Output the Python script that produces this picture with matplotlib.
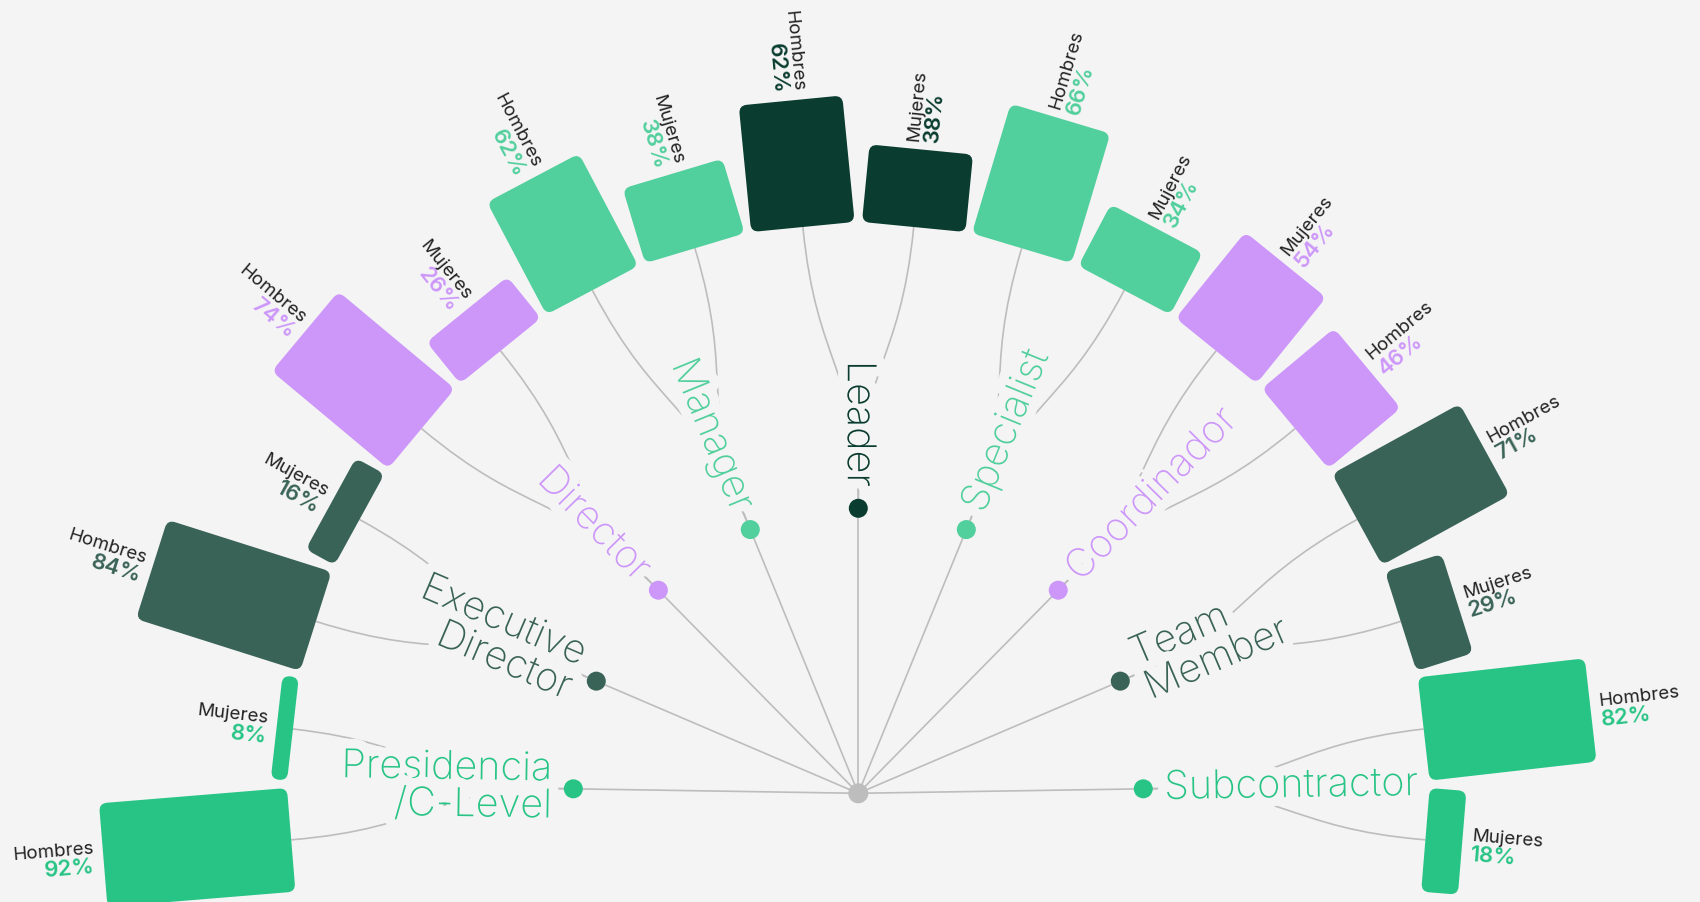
import numpy as np
import matplotlib
matplotlib.use('Agg')
import matplotlib.pyplot as plt
from matplotlib.patches import FancyBboxPatch, Circle, PathPatch
from matplotlib.path import Path
from matplotlib.transforms import Affine2D
import matplotlib.patheffects as pe

# data
categories = ["Presidencia\n/C-Level", "Executive\nDirector", "Director", "Manager",
              "Leader", "Specialist", "Coordinador", "Team\nMember", "Subcontractor"]
hombres = [92, 84, 74, 62, 62, 66, 46, 71, 82]
mujeres = [8, 16, 26, 38, 38, 34, 54, 29, 18]
cat_colors = ["#27c485", "#3a6357", "#cd97fa", "#51cf9c", "#0a3d2f",
              "#51cf9c", "#cd97fa", "#3a6357", "#27c485"]

BG = "#f4f4f4"
LINE = "#bdbdbd"
TXT = "#222222"
FONT = "Inter"

W, H = 1700, 903
cx, cy = 858.3, 794.3
r_dot = 285
r_in = 569
box_w = 104
gap = 7
px_per_pct = 2.05
ang_start, ang_step = 179.1, 22.275

fig = plt.figure(figsize=(17, 9.03), dpi=100)
fig.patch.set_facecolor(BG)
ax = fig.add_axes([0, 0, 1, 1])
ax.set_facecolor(BG)
ax.set_xlim(0, W)
ax.set_ylim(H, 0)
ax.axis('off')


def pt(ang, r):
    a = np.radians(ang)
    return cx + r * np.cos(a), cy - r * np.sin(a)


def link(a0, r0, a1, r1):
    # radial "bump" link like d3.linkRadial
    rm = (r0 + r1) / 2
    verts = [pt(a0, r0), pt(a0, rm), pt(a1, rm), pt(a1, r1)]
    return Path(verts, [Path.MOVETO, Path.CURVE4, Path.CURVE4, Path.CURVE4])


halo = [pe.withStroke(linewidth=14, foreground=BG)]
delta = np.degrees((box_w + gap) / 2 / r_in)

for i, cat in enumerate(categories):
    th = ang_start - ang_step * i
    col = cat_colors[i]
    left = i <= 4
    dx, dy = pt(th, r_dot)
    ax.plot([cx, dx], [cy, dy], color=LINE, lw=1.2, zorder=1, solid_capstyle='butt')
    ax.add_patch(Circle((dx, dy), 9.5, color=col, zorder=5, lw=0))

    pairs = [("Hombres", hombres[i]), ("Mujeres", mujeres[i])]
    pairs.sort(key=lambda p: -p[1])
    for k, (lab, pct) in enumerate(pairs):
        phi = th + delta if k == 0 else th - delta
        ax.add_patch(PathPatch(link(th, r_dot, phi, r_in), fc='none', ec=LINE, lw=1.2, zorder=1))
        L = px_per_pct * pct
        box = FancyBboxPatch((r_in, -box_w / 2), L, box_w,
                             boxstyle="round,pad=0,rounding_size=%f" % min(8, L / 2),
                             fc=col, ec='none', zorder=2)
        box.set_transform(Affine2D().rotate_deg(-phi).translate(cx, cy) + ax.transData)
        ax.add_patch(box)
        lx, ly = pt(phi, r_in + L + 9)
        rot = phi - 180 if phi > 90 else phi
        ha = 'right' if phi > 90 else 'left'
        ax.text(lx, ly, lab, rotation=rot, rotation_mode='anchor', ha=ha, va='bottom',
                fontsize=13.5, color=TXT, family=FONT, zorder=6)
        ax.text(lx, ly, "%d%%" % pct, rotation=rot, rotation_mode='anchor', ha=ha, va='top',
                fontsize=16, color=col, family=FONT, fontweight='semibold', zorder=6)

    tx, ty = pt(th, r_dot + 21)
    rot = th - 180 if left else th
    ha = 'right' if left else 'left'
    ax.text(tx, ty, cat, rotation=rot, rotation_mode='anchor', ha=ha, va='center',
            multialignment=ha, linespacing=1.0, fontsize=28.5, color=col, family=FONT,
            fontweight='light', zorder=4, path_effects=halo)

ax.add_patch(Circle((cx, cy), 10, color=LINE, zorder=5, lw=0))

fig.savefig("out.png", dpi=100, facecolor=BG)
